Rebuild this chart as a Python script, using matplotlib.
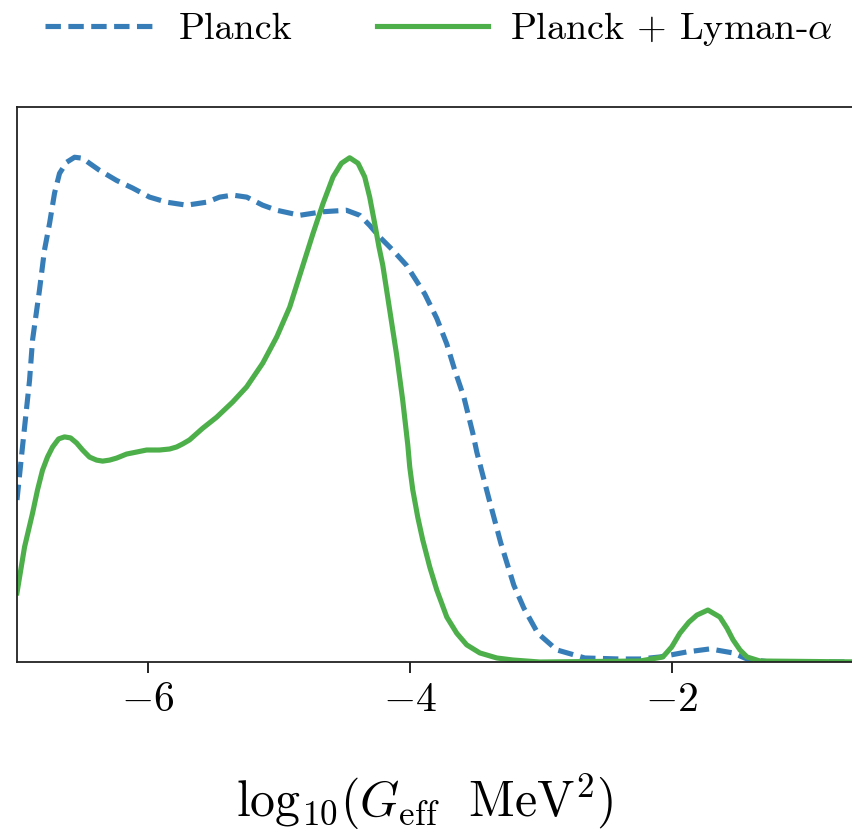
import matplotlib
matplotlib.use("Agg")
import matplotlib.pyplot as plt

plt.rcParams['mathtext.fontset'] = 'cm'
plt.rcParams['font.family'] = 'serif'
plt.rcParams['font.serif'] = ['cmr10', 'DejaVu Serif']
plt.rcParams['axes.formatter.use_mathtext'] = True
plt.rcParams['axes.unicode_minus'] = True

# Planck (dashed) posterior, normalised
planck_x = [-7.0, -6.958, -6.904, -6.881, -6.828, -6.790, -6.751, -6.713, -6.675,
            -6.621, -6.560, -6.499, -6.446, -6.369, -6.239, -6.117, -5.987, -5.857,
            -5.704, -5.551, -5.452, -5.352, -5.245, -5.123, -5.016, -4.840, -4.665,
            -4.484, -4.382, -4.306, -4.230, -4.130, -4.025, -3.885, -3.794, -3.717,
            -3.656, -3.587, -3.518, -3.488, -3.397, -3.305, -3.205, -3.129, -3.022,
            -2.877, -2.663, -2.397, -2.242, -2.089, -1.883, -1.707, -1.531, -1.424,
            -1.248, -0.5]
planck_y = [0.321, 0.426, 0.558, 0.638, 0.737, 0.816, 0.869, 0.929, 0.968,
            0.990, 1.0, 0.998, 0.988, 0.974, 0.954, 0.939, 0.921, 0.911,
            0.905, 0.911, 0.921, 0.925, 0.921, 0.905, 0.895, 0.885, 0.892,
            0.895, 0.885, 0.865, 0.842, 0.816, 0.786, 0.729, 0.681, 0.630,
            0.578, 0.525, 0.453, 0.416, 0.325, 0.236, 0.152, 0.107, 0.057,
            0.024, 0.008, 0.006, 0.006, 0.010, 0.020, 0.026, 0.018, 0.006,
            0.0, 0.0]

# Planck + Lyman-alpha (solid) posterior, normalised
lya_x = [-7.0, -6.942, -6.881, -6.843, -6.805, -6.767, -6.728, -6.682, -6.637,
         -6.591, -6.545, -6.499, -6.446, -6.392, -6.346, -6.293, -6.239, -6.163,
         -6.086, -6.010, -5.911, -5.834, -5.781, -5.735, -5.682, -5.582, -5.475,
         -5.353, -5.246, -5.123, -5.016, -4.917, -4.828, -4.739, -4.663, -4.586,
         -4.522, -4.459, -4.395, -4.344, -4.306, -4.268, -4.235, -4.206, -4.153,
         -4.100, -4.054, -4.015, -4.000, -3.977, -3.939, -3.901, -3.847, -3.794,
         -3.717, -3.641, -3.565, -3.465, -3.335, -3.213, -3.006, -2.242, -2.067,
         -1.999, -1.937, -1.868, -1.807, -1.723, -1.631, -1.577, -1.531, -1.478,
         -1.424, -1.325, -0.5]
lya_y = [0.137, 0.228, 0.295, 0.341, 0.380, 0.406, 0.426, 0.442, 0.446,
         0.444, 0.434, 0.420, 0.406, 0.400, 0.398, 0.400, 0.404, 0.412,
         0.416, 0.420, 0.420, 0.422, 0.426, 0.432, 0.440, 0.463, 0.485,
         0.515, 0.545, 0.592, 0.644, 0.703, 0.776, 0.849, 0.908, 0.961,
         0.988, 0.999, 0.988, 0.961, 0.921, 0.869, 0.822, 0.786, 0.697,
         0.608, 0.519, 0.430, 0.386, 0.341, 0.287, 0.242, 0.188, 0.143,
         0.089, 0.057, 0.034, 0.018, 0.008, 0.004, 0.0, 0.002, 0.010,
         0.030, 0.057, 0.079, 0.093, 0.103, 0.089, 0.067, 0.044, 0.024,
         0.010, 0.002, 0.0]

xticks = [-6, -4, -2]

blue = '#377eb8'
green = '#4daf4a'

fig = plt.figure(figsize=(8.53, 8.38), dpi=100)
ax = fig.add_axes([0.0199, 0.21, 0.9977, 0.662])

l1, = ax.plot(planck_x, planck_y, color=blue, lw=3.7, dashes=(3.0, 1.45),
              label='Planck', solid_joinstyle='round', dash_joinstyle='round')
l2, = ax.plot(lya_x, lya_y, color=green, lw=3.7, label=r'Planck + Lyman-$\alpha$',
              solid_joinstyle='round')

ax.set_xlim(-7.0, -0.5)
ax.set_ylim(0, 1.099)
ax.set_xticks(xticks)
ax.set_yticks([])
ax.tick_params(axis='x', labelsize=30, length=8, width=1.2, direction='out', pad=6)
for s in ax.spines.values():
    s.set_linewidth(1.3)
    s.set_color('#222222')

ax.set_xlabel(r'$\mathrm{log}_{10}(G_{\rm eff}\ \ {\rm MeV}^2)$', fontsize=36)
ax.xaxis.set_label_coords(425 / 853, 1 - 771 / 838, transform=fig.transFigure)

fig.legend(handles=[l1, l2], loc='center', bbox_to_anchor=(0.515, 0.965),
           ncol=2, frameon=False, fontsize=27.5, handlelength=2.9,
           handletextpad=0.6, columnspacing=2.2)

fig.savefig('out.png', dpi=100)
